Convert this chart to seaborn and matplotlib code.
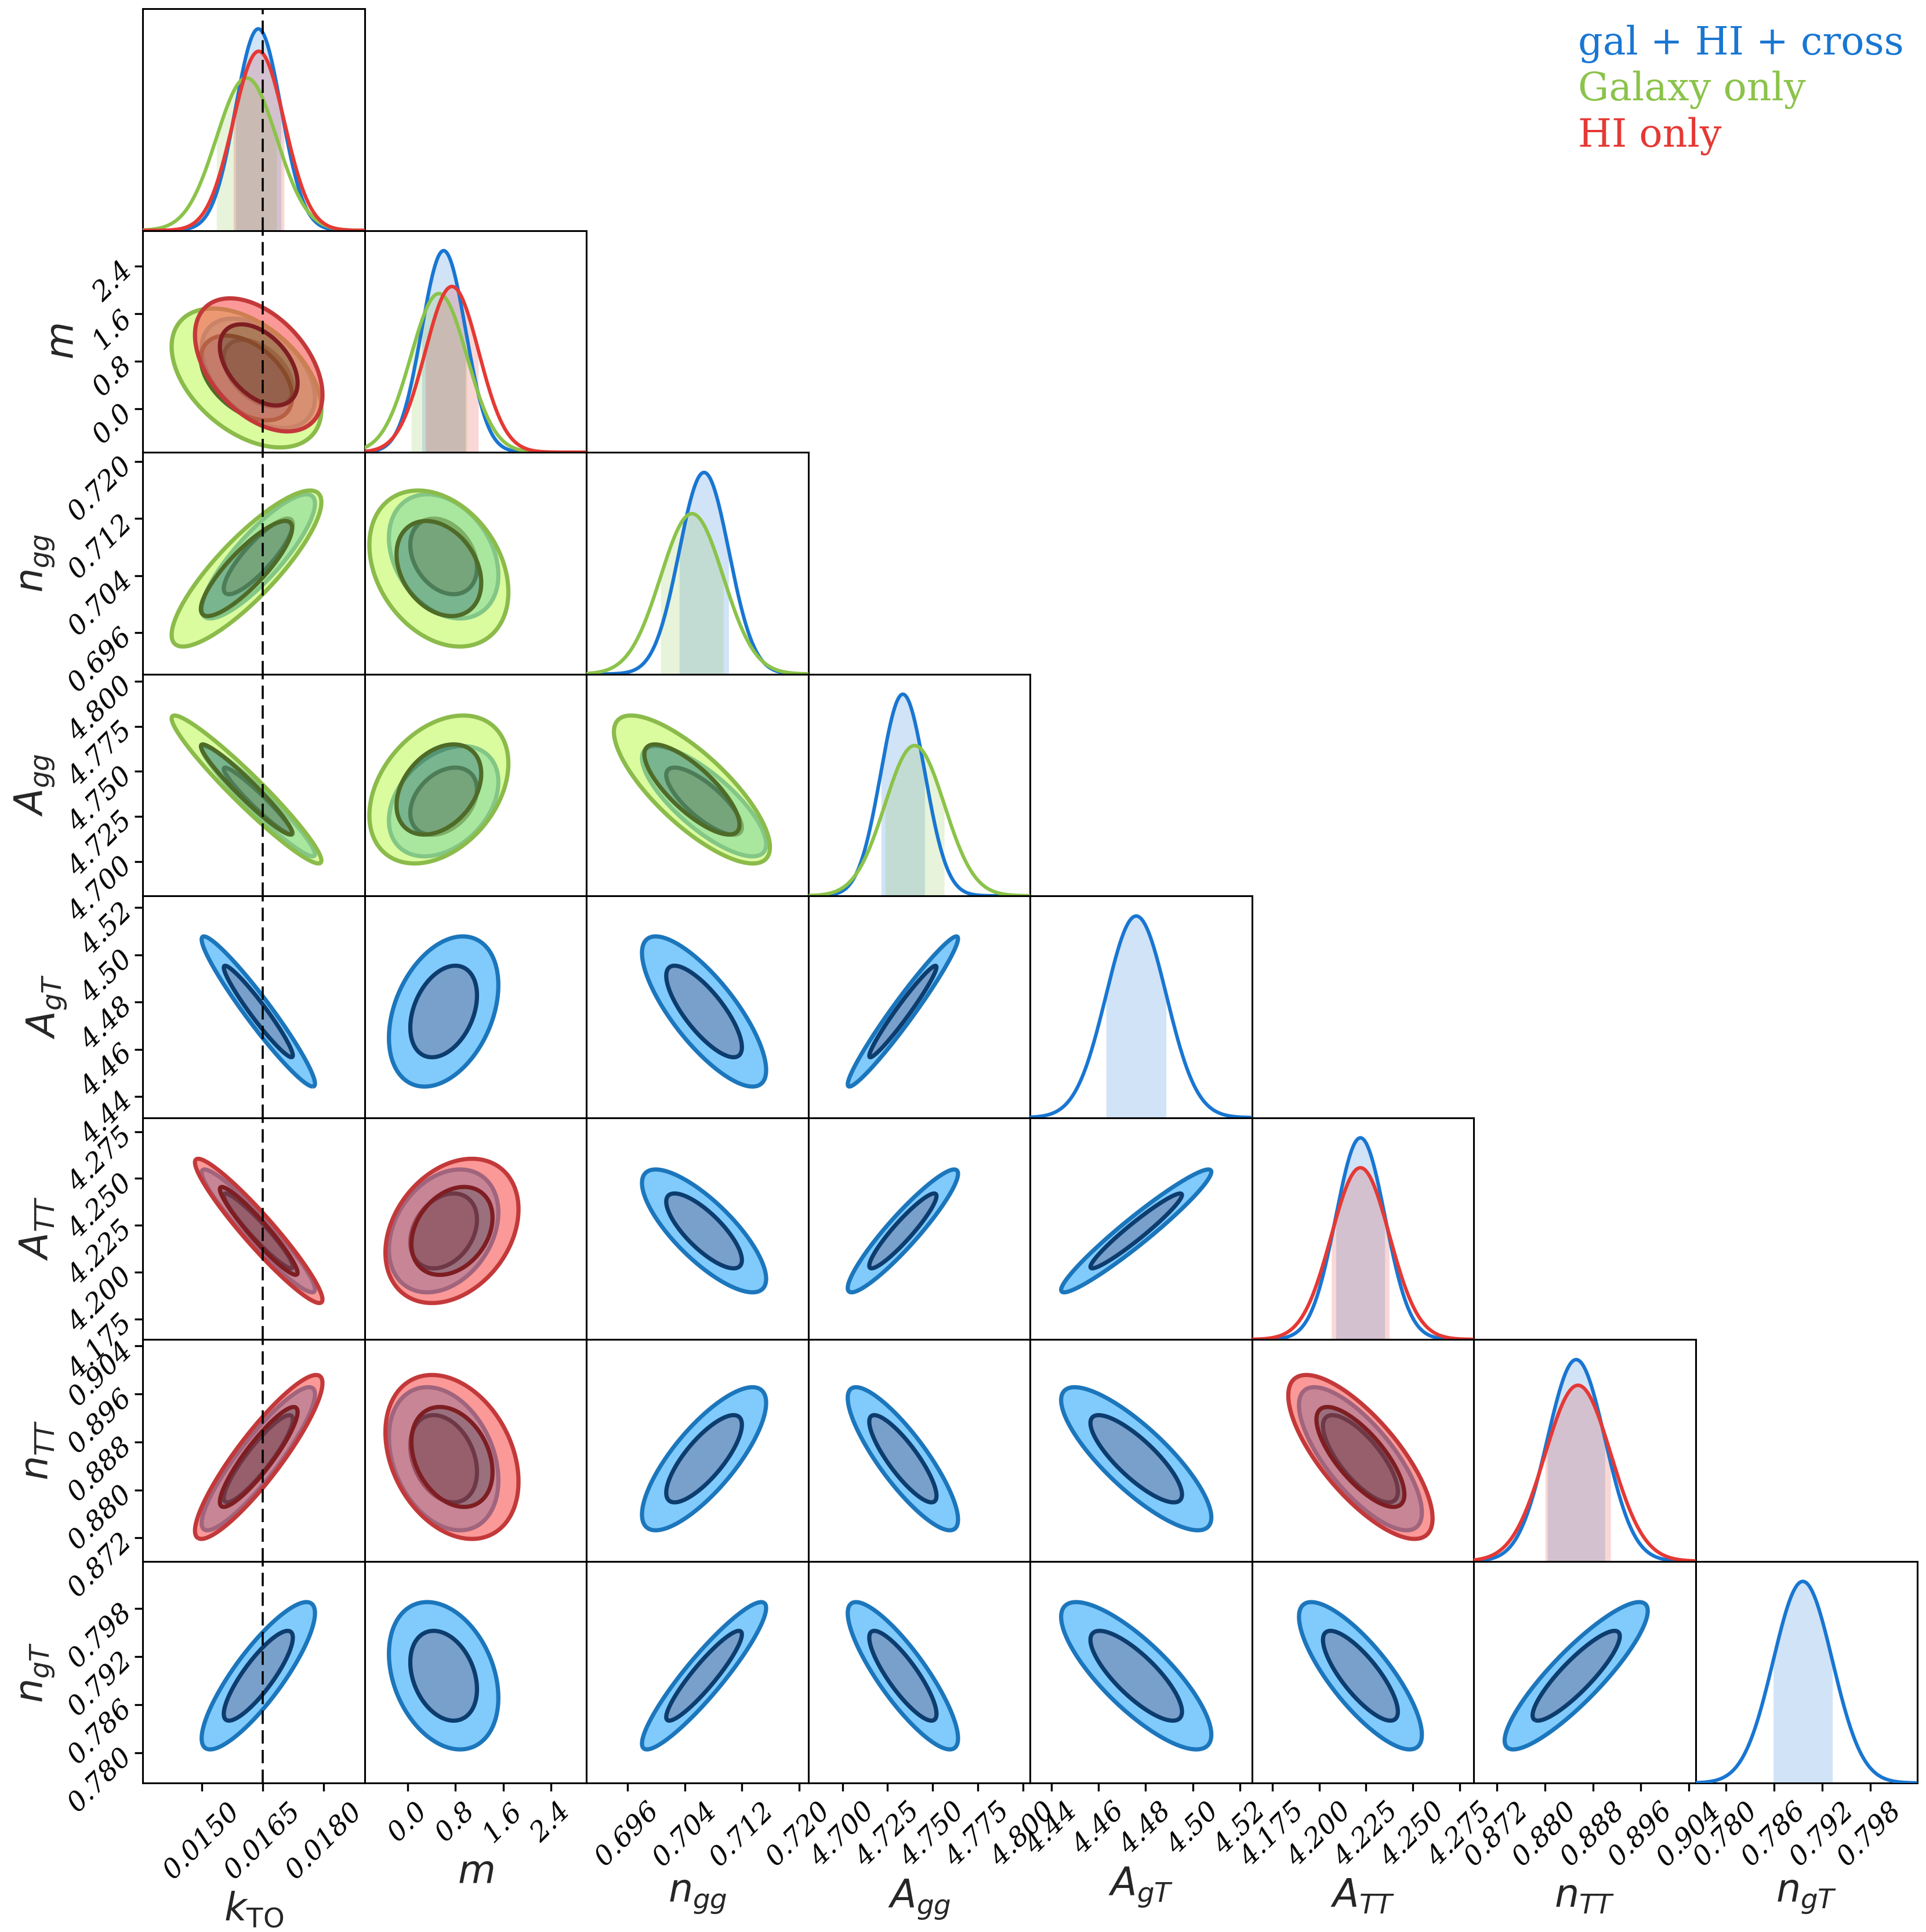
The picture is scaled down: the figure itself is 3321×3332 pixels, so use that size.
'''
Corner plot: gal + HI + cross vs Galaxy only vs HI only
'''
import numpy as np
import matplotlib
matplotlib.use('Agg')
import matplotlib.pyplot as plt
import seaborn as sns

'''
Dados lidos do grafico
'''
labels = [r'$k_{\rm TO}$', r'$m$', r'$n_{gg}$', r'$A_{gg}$',
          r'$A_{gT}$', r'$A_{TT}$', r'$n_{TT}$', r'$n_{gT}$']
lim_lo = [0.01355, -0.73, 0.6902, 4.681, 4.431, 4.164, 0.8681, 0.7762]
lim_hi = [0.0190, 3.00, 0.7213, 4.804, 4.525, 4.2825, 0.9051, 0.8039]
tick_vals = [[0.0150, 0.0165, 0.0180],
             [0.0, 0.8, 1.6, 2.4],
             [0.696, 0.704, 0.712, 0.720],
             [4.700, 4.725, 4.750, 4.775, 4.800],
             [4.44, 4.46, 4.48, 4.50, 4.52],
             [4.175, 4.200, 4.225, 4.250, 4.275],
             [0.872, 0.880, 0.888, 0.896, 0.904],
             [0.780, 0.786, 0.792, 0.798]]
tick_text = [['0.0150', '0.0165', '0.0180'],
             ['0.0', '0.8', '1.6', '2.4'],
             ['0.696', '0.704', '0.712', '0.720'],
             ['4.700', '4.725', '4.750', '4.775', '4.800'],
             ['4.44', '4.46', '4.48', '4.50', '4.52'],
             ['4.175', '4.200', '4.225', '4.250', '4.275'],
             ['0.872', '0.880', '0.888', '0.896', '0.904'],
             ['0.780', '0.786', '0.792', '0.798']]
k_truth = 0.0165

chain_names = ['gal + HI + cross', 'Galaxy only', 'HI only']
nan = np.nan
# media e desvio de cada parametro (nan = parametro ausente na cadeia)
mean_cross = [0.01639, 0.60, 0.7067, 4.7335, 4.476, 4.222, 0.8852, 0.7896]
sig_cross = [0.00056, 0.37, 0.0035, 0.0123, 0.0128, 0.0132, 0.0048, 0.0037]
mean_gal = [0.0161, 0.52, 0.7050, 4.740, nan, nan, nan, nan]
sig_gal = [0.00074, 0.47, 0.0044, 0.0165, nan, nan, nan, nan]
mean_hi = [0.0164, 0.74, nan, nan, nan, 4.222, 0.8855, nan]
sig_hi = [0.00063, 0.45, nan, nan, nan, 0.0155, 0.0055, nan]

# correlacoes (triangulo inferior)
rho = [[1.0],
       [-0.45, 1.0],
       [0.85, -0.30, 1.0],
       [-0.96, 0.35, -0.78, 1.0],
       [-0.96, 0.35, -0.78, 0.97, 1.0],
       [-0.95, 0.30, -0.78, 0.93, 0.96, 1.0],
       [0.90, -0.30, 0.78, -0.85, -0.82, -0.75, 1.0],
       [0.85, -0.30, 0.92, -0.85, -0.80, -0.80, 0.88, 1.0]]

chain_mean = [mean_cross, mean_gal, mean_hi]
chain_sig = [sig_cross, sig_gal, sig_hi]

'''
Estilo
'''
line_col = ['#1976D2', '#8BC34A', '#E53935']
fill_out = ['#80CBFC', '#C5FA63', '#F75956']
fill_in = ['#78A0CB', '#75A849', '#AC372F']
edge_out = ['#1C76BC', '#8BBB4A', '#C3393A']
edge_in = ['#0D3C6E', '#4F6B28', '#7E1E22']
fill_alpha = [1.0, 0.61, 0.61]
lev1 = -2 * np.log(1 - 0.6827)  # 1 sigma (68%)
lev2 = -2 * np.log(1 - 0.9545)  # 2 sigma (95%)

sns.set_theme(style='ticks', rc={'axes.edgecolor': 'black', 'axes.linewidth': 1.1,
                                 'xtick.color': 'black', 'ytick.color': 'black'})
plt.rcParams['font.family'] = ['DejaVu Serif']
plt.rcParams['mathtext.fontset'] = 'dejavusans'

n = len(labels)
fig, axes = plt.subplots(n, n, figsize=(16.605, 16.66), dpi=200)
plt.subplots_adjust(left=0.0741, right=0.9955, bottom=0.0771, top=0.9955,
                    wspace=0, hspace=0)

for i in range(n):
    for j in range(n):
        ax = axes[i, j]
        if j > i:
            ax.axis('off')
            continue

        if i == j:
            # marginal 1D
            x = np.linspace(lim_lo[i], lim_hi[i], 500)
            top = 0
            for k in range(3):
                mu, sd = chain_mean[k][i], chain_sig[k][i]
                if np.isnan(mu):
                    continue
                y = np.exp(-0.5 * ((x - mu) / sd) ** 2) / (sd * np.sqrt(2 * np.pi))
                top = max(top, y.max())
                sns.lineplot(x=x, y=y, ax=ax, color=line_col[k], lw=2.2, zorder=3 + k)
                band = (x >= mu - sd) & (x <= mu + sd)
                ax.fill_between(x[band], 0, y[band], color=line_col[k], alpha=0.2, lw=0)
            ax.set_ylim(0, 1.1 * top)
        else:
            # contornos 2D, cada cadeia por cima da anterior
            xs = np.linspace(lim_lo[j], lim_hi[j], 300)
            ys = np.linspace(lim_lo[i], lim_hi[i], 300)
            X, Y = np.meshgrid(xs, ys)
            r = rho[i][j]
            for k in range(3):
                mu, sd = chain_mean[k], chain_sig[k]
                if np.isnan(mu[i]) or np.isnan(mu[j]):
                    continue
                dx = (X - mu[j]) / sd[j]
                dy = (Y - mu[i]) / sd[i]
                d2 = (dx ** 2 - 2 * r * dx * dy + dy ** 2) / (1 - r ** 2)
                ax.contourf(X, Y, d2, levels=[0, lev1, lev2], zorder=2 + 2 * k,
                            colors=[fill_in[k], fill_out[k]], alpha=fill_alpha[k])
                ax.contour(X, Y, d2, levels=[lev1, lev2], zorder=3 + 2 * k,
                           colors=[edge_in[k], edge_out[k]], linewidths=2.6)
            ax.set_ylim(lim_lo[i], lim_hi[i])

        ax.set_xlim(lim_lo[j], lim_hi[j])
        ax.tick_params(direction='out', length=5, width=1.2, pad=4)

        if j == 0:
            ax.axvline(k_truth, color='black', ls=(0, (6.4, 3.0)), lw=1.3, zorder=10)

        # eixo x so na ultima linha
        if i == n - 1:
            ax.set_xticks(tick_vals[j])
            ax.set_xticklabels(tick_text[j], rotation=45, ha='center', va='top',
                               rotation_mode='default', fontsize=17, fontstyle='italic')
            ax.set_xlabel(labels[j], fontsize=24, labelpad=4)
        else:
            ax.set_xticks([])

        # eixo y so na primeira coluna (fora da diagonal)
        if j == 0 and i > 0:
            ax.set_yticks(tick_vals[i])
            ax.set_yticklabels(tick_text[i], rotation=45, ha='right', va='center',
                               rotation_mode='anchor', fontsize=17, fontstyle='italic')
            ax.set_ylabel(labels[i], fontsize=24, labelpad=4)
        else:
            ax.set_yticks([])
            ax.set_ylabel('')

# legenda com texto colorido
for k in range(3):
    fig.text(0.8192, 0.9718 - 0.0238 * k, chain_names[k], color=line_col[k],
             fontsize=24, family='DejaVu Serif', ha='left', va='baseline')

fig.savefig('out.png', dpi=200)
